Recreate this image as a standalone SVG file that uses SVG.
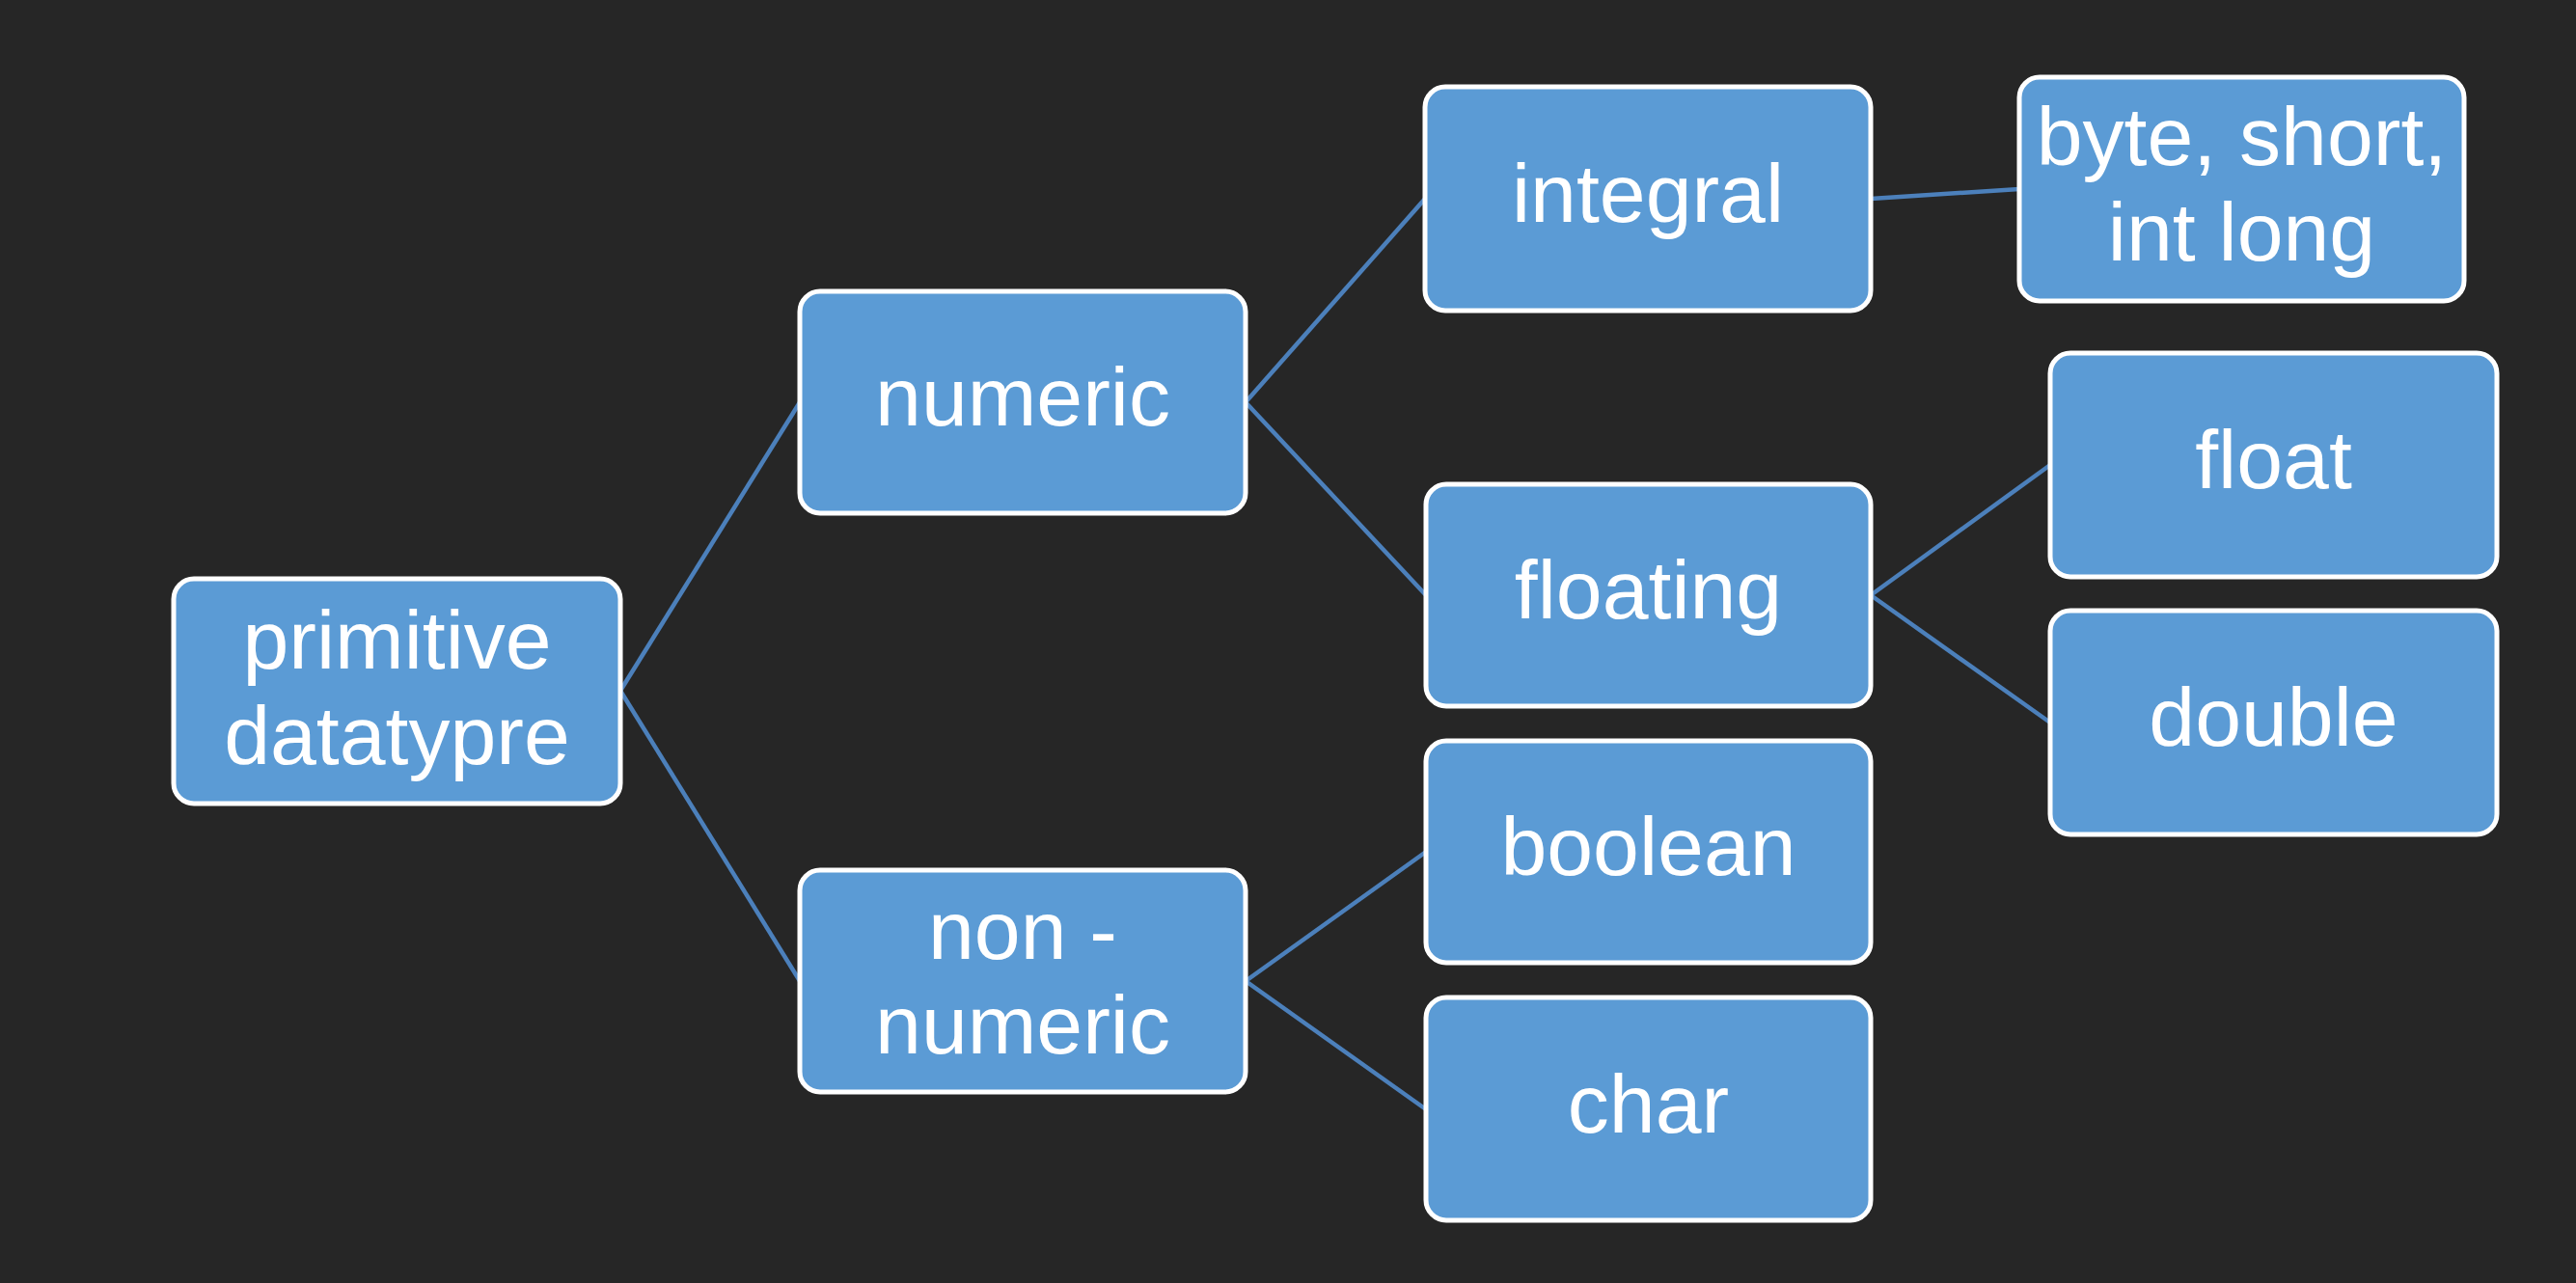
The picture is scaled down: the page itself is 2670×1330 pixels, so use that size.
<svg xmlns="http://www.w3.org/2000/svg" width="2670" height="1330" viewBox="0 0 2670 1330">
<style>
.box{fill:#5b9bd5;stroke:#ffffff;stroke-width:5}
.t{font-family:"Liberation Sans",Arial,sans-serif;font-size:86px;fill:#ffffff;text-anchor:middle}
.c{stroke:#4c80bb;stroke-width:4.5;fill:none}
</style>
<rect width="2670" height="1330" fill="#262626"/>
<g id="connectors">
<line class="c" x1="643" y1="716" x2="829" y2="417"/>
<line class="c" x1="643" y1="716" x2="829" y2="1017"/>
<line class="c" x1="1291" y1="417" x2="1477" y2="206"/>
<line class="c" x1="1291" y1="417" x2="1478" y2="617"/>
<line class="c" x1="1939" y1="206" x2="2093" y2="196"/>
<line class="c" x1="1939" y1="617" x2="2125" y2="482"/>
<line class="c" x1="1939" y1="617" x2="2125" y2="749"/>
<line class="c" x1="1291" y1="1017" x2="1478" y2="883"/>
<line class="c" x1="1291" y1="1017" x2="1478" y2="1150"/>
</g>
<g id="primitive"><rect class="box" x="180" y="600" width="463" height="233" rx="21"/><text class="t" x="411.5" y="693">primitive</text><text class="t" x="411.5" y="792">datatypre</text></g>
<g id="numeric"><rect class="box" x="829" y="302" width="462" height="230" rx="21"/><text class="t" x="1060" y="441">numeric</text></g>
<g id="nonnumeric"><rect class="box" x="829" y="902" width="462" height="230" rx="21"/><text class="t" x="1060" y="994">non -</text><text class="t" x="1060" y="1092">numeric</text></g>
<g id="integral"><rect class="box" x="1477" y="90" width="462" height="232" rx="21"/><text class="t" x="1708" y="230">integral</text></g>
<g id="floating"><rect class="box" x="1478" y="502" width="461" height="230" rx="21"/><text class="t" x="1708.5" y="641">floating</text></g>
<g id="boolean"><rect class="box" x="1478" y="768" width="461" height="230" rx="21"/><text class="t" x="1708.5" y="907">boolean</text></g>
<g id="char"><rect class="box" x="1478" y="1034" width="461" height="231" rx="21"/><text class="t" x="1708.5" y="1174">char</text></g>
<g id="bytes"><rect class="box" x="2093" y="80" width="461" height="232" rx="21"/><text class="t" x="2323.5" y="171">byte, short,</text><text class="t" x="2323.5" y="270">int long</text></g>
<g id="float"><rect class="box" x="2125" y="366" width="463" height="232" rx="21"/><text class="t" x="2356.5" y="506">float</text></g>
<g id="double"><rect class="box" x="2125" y="633" width="463" height="232" rx="21"/><text class="t" x="2356.5" y="773">double</text></g>
</svg>
